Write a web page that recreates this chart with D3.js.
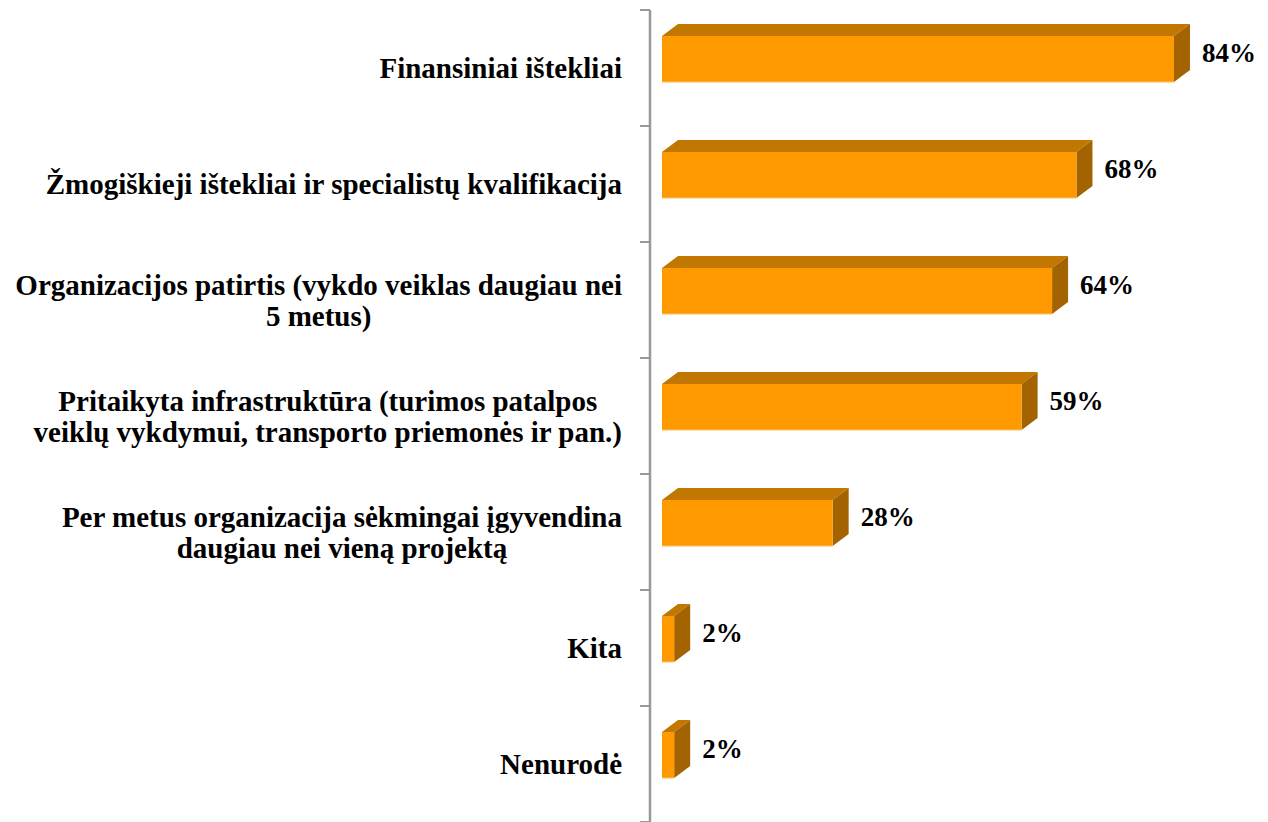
<!DOCTYPE html>
<html lang="lt">
<head>
<meta charset="UTF-8">
<script src="https://cdnjs.cloudflare.com/ajax/libs/d3/7.8.5/d3.min.js"></script>
<title>Ištekliai</title>
<style>
  body { margin: 0; background: #fff; }
</style>
</head>
<body>
<svg id="chart" width="1268" height="822"></svg>
<script>
// duomenys
const categories = [
  ["Finansiniai ištekliai"],
  ["Žmogiškieji ištekliai ir specialistų kvalifikacija"],
  ["Organizacijos patirtis (vykdo veiklas daugiau nei", "5 metus)"],
  ["Pritaikyta infrastruktūra (turimos patalpos", "veiklų vykdymui, transporto priemonės ir pan.)"],
  ["Per metus organizacija sėkmingai įgyvendina", "daugiau nei vieną projektą"],
  ["Kita"],
  ["Nenurodė"]
];
const values = [84, 68, 64, 59, 28, 2, 2];
const valueLabels = ["84%", "68%", "64%", "59%", "28%", "2%", "2%"];

const FONT = '"Liberation Serif", "Times New Roman", serif';
const svg = d3.select("#chart");
const keys = categories.map(c => c.join(" "));

const y = d3.scaleBand().domain(keys).range([10, 822]);
const x = d3.scaleLinear().domain([0, 100]).range([662, 1271.5]);

const step = y.step();
const depthX = 16, depthY = 12;
const barTop = step * 0.224, barH = step * 0.397;
const axisX = 650;

// os linija ir padalos
svg.append("line")
  .attr("x1", axisX).attr("x2", axisX)
  .attr("y1", 10).attr("y2", 822)
  .attr("stroke", "#999").attr("stroke-width", 2.5);

const bounds = keys.map(k => y(k)).concat([y.range()[1]]);
svg.selectAll(".tick").data(bounds).join("line")
  .attr("class", "tick")
  .attr("x1", axisX - 10).attr("x2", axisX)
  .attr("y1", d => d).attr("y2", d => d)
  .attr("stroke", "#999").attr("stroke-width", 2);

// stulpeliai (3D)
const g = svg.selectAll(".bar").data(values).join("g").attr("class", "bar");

g.each(function (v, i) {
  const el = d3.select(this);
  const x0 = x(0), x1 = x(v);
  const yt = y(keys[i]) + barTop, yb = yt + barH;
  // virsus
  el.append("path")
    .attr("d", `M${x0},${yt} L${x0 + depthX},${yt - depthY} L${x1 + depthX},${yt - depthY} L${x1},${yt} Z`)
    .attr("fill", "#C27800");
  // sonas
  el.append("path")
    .attr("d", `M${x1},${yt} L${x1 + depthX},${yt - depthY} L${x1 + depthX},${yb - depthY} L${x1},${yb} Z`)
    .attr("fill", "#A36300");
  // priekis
  el.append("rect")
    .attr("x", x0).attr("y", yt)
    .attr("width", x1 - x0).attr("height", barH)
    .attr("fill", "#FF9900");
  el.append("line")
    .attr("x1", x0).attr("x2", x1).attr("y1", yb).attr("y2", yb)
    .attr("stroke", "#FFC870").attr("stroke-width", 1);

  el.append("text")
    .attr("x", x1 + depthX + 12)
    .attr("y", (yt - depthY + yb) / 2 + 9)
    .style("font-family", FONT).style("font-weight", "bold").style("font-size", "27px")
    .attr("fill", "#000")
    .text(valueLabels[i]);
});

// kategoriju pavadinimai
const lineH = 31;
categories.forEach((lines, i) => {
  const cy = y(keys[i]) + step / 2;
  const t = svg.append("text")
    .style("font-family", FONT).style("font-weight", "bold").style("font-size", "29px")
    .attr("fill", "#000")
    .attr("text-anchor", "middle");
  lines.forEach((l, j) => {
    t.append("tspan")
      .attr("y", cy + (j - (lines.length - 1) / 2) * lineH + 10)
      .text(l);
  });
  const w = d3.max(t.selectAll("tspan").nodes(), n => n.getComputedTextLength());
  t.selectAll("tspan").attr("x", 622 - w / 2);
});
</script>
</body>
</html>
